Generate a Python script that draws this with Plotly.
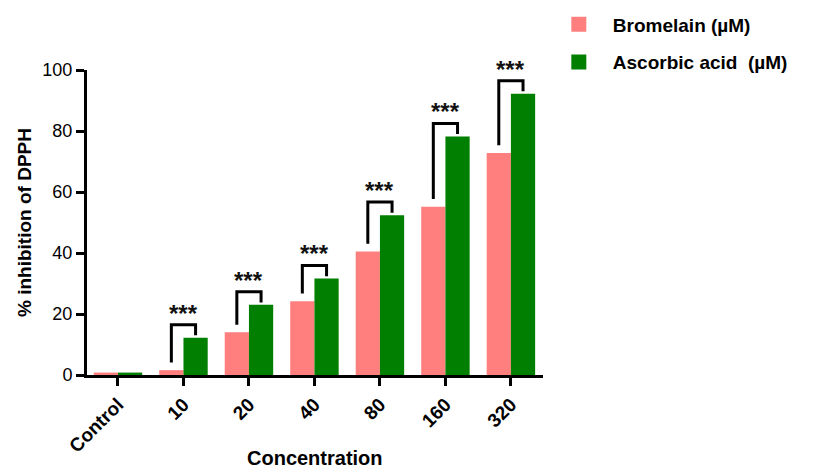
import plotly.graph_objects as go

categories = ["Control", "10", "20", "40", "80", "160", "320"]
bromelain = [0.8, 1.6, 14.0, 24.2, 40.5, 55.2, 72.8]
ascorbic = [0.8, 12.2, 23.0, 31.6, 52.4, 78.2, 92.2]
significance = ["", "***", "***", "***", "***", "***", "***"]
y_ticks = [0, 20, 40, 60, 80, 100]
series_names = ["Bromelain (µM)", "Ascorbic acid  (µM)"]
colors = ["#FF7F7F", "#007F00"]

FONT = "Liberation Sans, Arial, sans-serif"
x = list(range(len(categories)))
bar_w = 0.37

fig = go.Figure()
fig.add_trace(go.Bar(x=x, y=bromelain, width=bar_w, offset=-bar_w,
                     marker=dict(color=colors[0], line=dict(width=0)), showlegend=False))
fig.add_trace(go.Bar(x=x, y=ascorbic, width=bar_w, offset=0,
                     marker=dict(color=colors[1], line=dict(width=0)), showlegend=False))

# significance brackets derived from the data
bx, by = [], []
annotations = []
for i, s in enumerate(significance):
    if not s:
        continue
    p, g = bromelain[i], ascorbic[i]
    top = max(p, g) + 4.3
    xl, xr = i - bar_w / 2, i + bar_w / 2
    bx += [xl, xl, xr, xr, None]
    by += [p + 2.5, top, top, g + 0.8, None]
    annotations.append(dict(x=i, y=top - 1.3, text="<b>" + s + "</b>", showarrow=False,
                            xanchor="center", yanchor="bottom",
                            font=dict(family=FONT, size=24, color="#111")))
fig.add_trace(go.Scatter(x=bx, y=by, mode="lines", line=dict(color="black", width=3),
                         showlegend=False, hoverinfo="skip", cliponaxis=False))

for k, (nm, c) in enumerate(zip(series_names, colors)):
    fig.add_trace(go.Scatter(x=[None], y=[None], mode="markers", name="<b>" + nm + "</b>",
                             legendgroup=str(k),
                             marker=dict(symbol="square", size=15, color=c)))

# x-axis title as a paper annotation so it stays fully inside the window
annotations.append(dict(xref="paper", yref="paper", x=0.5, y=-0.272, text="<b>Concentration</b>",
                        showarrow=False, xanchor="center", yanchor="middle",
                        font=dict(family=FONT, size=20, color="black")))

# the page body adds an 8px offset, so the figure's own margins are 8px smaller on top/left
fig.update_layout(
    width=816, height=471,
    margin=dict(l=79, r=281, t=62, b=104, autoexpand=False),
    plot_bgcolor="white", paper_bgcolor="white",
    barmode="overlay",
    font=dict(family=FONT, color="black"),
    annotations=annotations,
    legend=dict(x=1.004, y=1.212, xanchor="left", yanchor="top",
                font=dict(family=FONT, size=19, color="black"),
                tracegroupgap=10, traceorder="grouped", itemwidth=58),
    xaxis=dict(range=[-0.473, 6.49], tickvals=x, ticktext=["<b>" + c + "</b>" for c in categories],
               tickangle=-45, showline=True, linecolor="black", linewidth=3,
               ticks="outside", ticklen=8, tickwidth=3, tickcolor="black",
               tickfont=dict(family=FONT, size=19, color="black"),
               showgrid=False, zeroline=False, automargin=False),
    yaxis=dict(range=[0, 100], tickvals=y_ticks, showline=True, linecolor="black", linewidth=3,
               ticks="outside", ticklen=8, tickwidth=3, tickcolor="black",
               tickfont=dict(family=FONT, size=18, color="black"),
               showgrid=False, zeroline=False, automargin=False,
               title=dict(text="<b>% inhibition of DPPH</b>", font=dict(family=FONT, size=19), standoff=6)),
)

fig.write_html("out.html")
